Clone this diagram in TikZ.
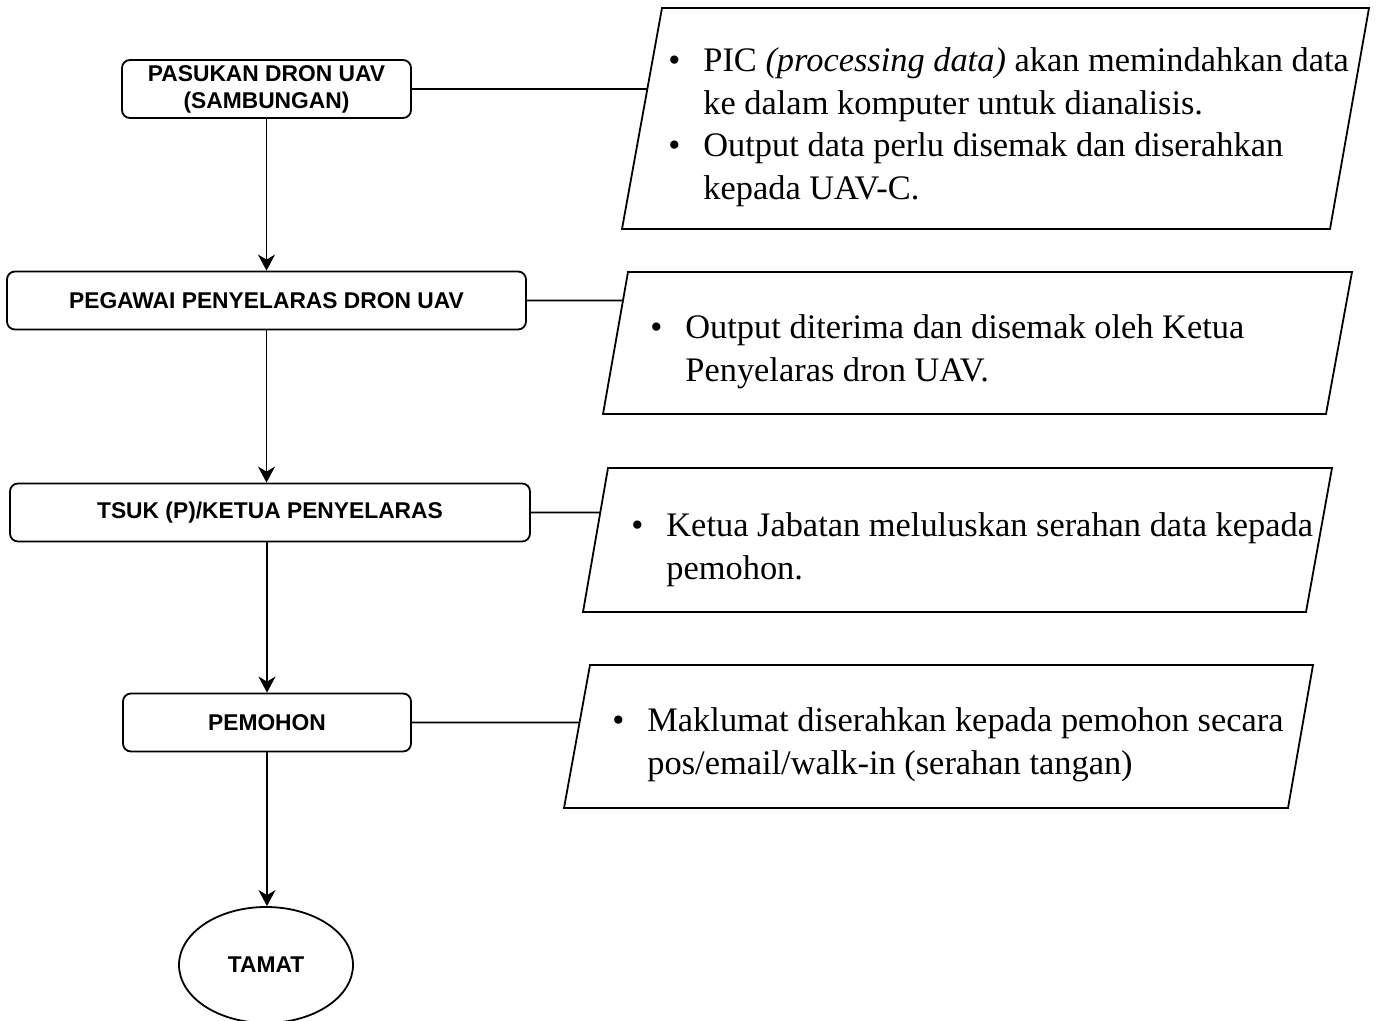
\documentclass[tikz,border=0pt]{standalone}
\usepackage{fontspec}
\setmainfont{Liberation Serif}
\setsansfont{Liberation Sans}
\usetikzlibrary{arrows.meta, positioning, shapes.geometric}

\newcommand{\itm}{\makebox[17.5pt][l]{\textbullet}}
\newcommand{\ind}{\hspace*{17.5pt}}

\begin{document}
\begin{tikzpicture}[
    x=0.5pt, y=-0.5pt,
    role/.style={
        rectangle, draw, rounded corners=4pt, line width=0.9pt,
        align=center, minimum height=29pt, inner sep=0pt,
        font=\sffamily\bfseries\fontsize{11.4}{13.5}\selectfont
    },
    finish/.style={
        ellipse, draw, line width=0.9pt,
        minimum width=87pt, minimum height=58pt, inner sep=0pt,
        font=\sffamily\bfseries\fontsize{11.4}{13.5}\selectfont
    },
    note/.style={
        anchor=north west, align=left, inner sep=0pt,
        font=\fontsize{17.2}{21.4}\selectfont
    },
    slab/.style={draw, line width=0.9pt},
    arr/.style={-{Stealth[length=8pt, width=8.5pt, inset=2.5pt]}, line width=0.9pt},
    link/.style={line width=0.9pt},
]
\useasboundingbox (0,0) rectangle (1377,1021);

\node[role, minimum width=144.5pt] (b1) at (266.5,89) {PASUKAN DRON UAV\\(SAMBUNGAN)};
\node[role, minimum width=259.5pt] (b2) at (266.5,300.5) {PEGAWAI PENYELARAS DRON UAV};
\node[role, minimum width=260pt]   (b3) at (270,512.5) {TSUK (P)/KETUA PENYELARAS};
\node[role, minimum width=144pt]   (b4) at (267,722.5) {PEMOHON};
\node[finish] (tamat) at (266,965) {TAMAT};

\coordinate (p1a) at (622,229);
\coordinate (p1b) at (1330,229);
\coordinate (p1c) at (1369,8);
\coordinate (p1d) at (662,8);
\coordinate (p2a) at (603,414);
\coordinate (p2b) at (1326,414);
\coordinate (p2c) at (1352,272);
\coordinate (p2d) at (628,272);
\coordinate (p3a) at (583,612);
\coordinate (p3b) at (1306,612);
\coordinate (p3c) at (1332,468);
\coordinate (p3d) at (608,468);
\coordinate (p4a) at (564,808);
\coordinate (p4b) at (1288,808);
\coordinate (p4c) at (1313,665);
\coordinate (p4d) at (590,665);
\draw[slab] (p1a) -- (p1b) -- (p1c) -- (p1d) -- cycle;
\draw[slab] (p2a) -- (p2b) -- (p2c) -- (p2d) -- cycle;
\draw[slab] (p3a) -- (p3b) -- (p3c) -- (p3d) -- cycle;
\draw[slab] (p4a) -- (p4b) -- (p4c) -- (p4d) -- cycle;

\node[note] (t1) at (668,47)
    {\itm PIC \textit{(processing data)} akan memindahkan data\\
     \ind ke dalam komputer untuk dianalisis.\\
     \itm Output data perlu disemak dan diserahkan\\
     \ind kepada UAV-C.};
\node[note] (t2) at (650,314)
    {\itm Output diterima dan disemak oleh Ketua\\
     \ind Penyelaras dron UAV.};
\node[note] (t3) at (631,512)
    {\itm Ketua Jabatan meluluskan serahan data kepada\\
     \ind pemohon.};
\node[note] (t4) at (612,707)
    {\itm Maklumat diserahkan kepada pemohon secara\\
     \ind pos/email/walk-in (serahan tangan)};

\draw[arr] (b1.south) -- (b1.south |- b2.north);
\draw[arr] (b2.south) -- (b2.south |- b3.north);
\draw[arr] (b3.south -| b4.north) -- (b4.north);
\draw[arr] (b4.south) -- (b4.south |- tamat.north);

\draw[link] (b1.east) -- (intersection of b1.west--b1.east and p1a--p1d);
\draw[link] (b2.east) -- (intersection of b2.west--b2.east and p2a--p2d);
\draw[link] (b3.east) -- (intersection of b3.west--b3.east and p3a--p3d);
\draw[link] (b4.east) -- (intersection of b4.west--b4.east and p4a--p4d);
\end{tikzpicture}
\end{document}
